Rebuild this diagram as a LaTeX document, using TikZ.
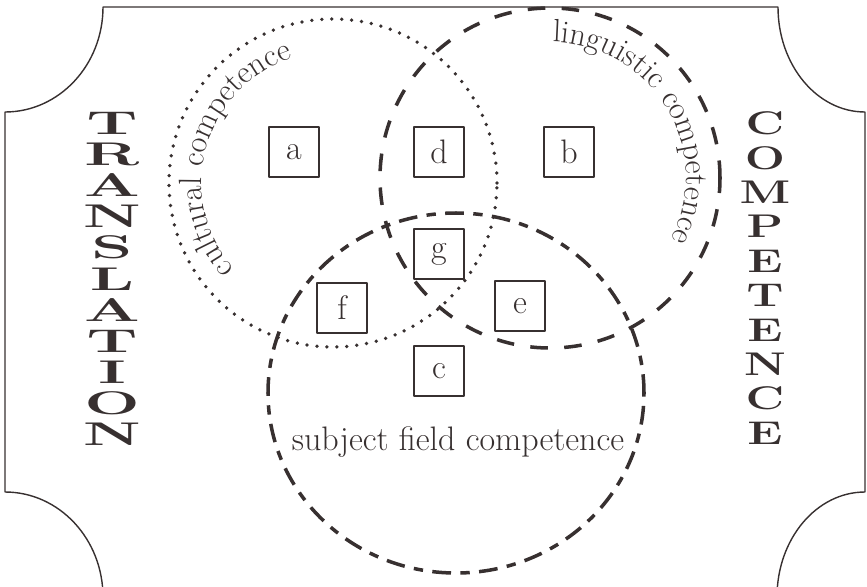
\documentclass[tikz,border=0pt]{standalone}
\usetikzlibrary{decorations.text}
\definecolor{ink}{RGB}{55,48,48}
\newcommand{\labelfont}{\fontsize{27.5}{32}\selectfont}
\newcommand{\capsfont}{\bfseries\fontsize{28}{28}\selectfont}
\begin{document}
\begin{tikzpicture}[x=0.03cm, y=0.03cm, line join=round,
    box/.style={draw=ink, fill=white, line width=1.4pt, minimum size=1.5cm, inner sep=0pt, text=ink, font=\fontsize{29}{32}\selectfont},
    dotline/.style={ink, line width=3.2pt, line cap=round, dash pattern=on 0pt off 8.5pt},
    longdash/.style={ink, line width=3pt, dash pattern=on 15pt off 14pt},
    dashdot/.style={ink, line width=3pt, dash pattern=on 16pt off 8pt on 8pt off 8pt},
    bigcap/.style={text=ink, font=\capsfont, inner sep=0pt}]
    \useasboundingbox (0,0) rectangle (867,-586);
    % frame with the corners cut in
    \draw[ink, line width=1.2pt] (103,-7) -- (778,-7)
        arc[start angle=180, end angle=270, x radius=87, y radius=105] -- (865,-492)
        arc[start angle=90, end angle=180, x radius=88, y radius=105] -- (103,-597)
        arc[start angle=0, end angle=90, x radius=98, y radius=105] -- (5,-112)
        arc[start angle=270, end angle=360, x radius=98, y radius=105] -- cycle;

    % the three competences
    \coordinate (cul) at (333,-183);
    \coordinate (lin) at (550,-178);
    \coordinate (sub) at (456,-393);
    \draw[dotline]  (cul) circle[radius=164];
    \draw[longdash] (lin) circle[radius=170];
    \draw[dashdot]  (sub) circle[x radius=188, y radius=180];

    % labels of the circles
    \path[decorate, decoration={text along path, text align=center,
        text={|\labelfont\color{ink}|cultural competence}}]
        ([shift={(223:131)}]cul) arc[start angle=223, end angle=106, radius=131];
    \path[decorate, decoration={text along path, text align=center,
        text={|\labelfont\color{ink}|linguistic competence}}]
        ([shift={(90:136)}]lin) arc[start angle=90, end angle=-28, radius=136];
    \node[text=ink, font=\fontsize{29}{32}\selectfont, anchor=base] (sublabel) at (458,-450) {subject field competence};

    % areas
    \node[box] (a) at (294,-152) {a};
    \node[box] (d) at (439,-152) {d};
    \node[box] (b) at (569,-152) {b};
    \node[box] (g) at (439,-254) {g};
    \node[box] (f) at (342,-308) {f};
    \node[box] (e) at (520,-306) {e};
    \node[box] (c) at (439,-371) {c};

    % side titles
    \foreach \ch [count=\i] in {T,R,A,N,S,L,A,T,I,O,N}
        \node[bigcap] (tr\i) at (112,{-123-(\i-1)*31.15}) {\scalebox{2}[1]{\ch}};
    \foreach \ch [count=\i] in {C,O,M,P,E,T,E,N,C,E}
        \node[bigcap] (co\i) at (765,{-123.5-(\i-1)*34.4}) {\scalebox{1.45}[1]{\ch}};
\end{tikzpicture}
\end{document}
